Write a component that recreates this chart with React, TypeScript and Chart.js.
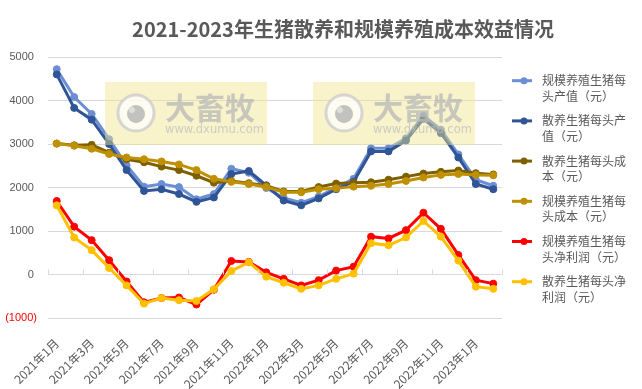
import React, { useEffect, useRef } from 'react';
import { Chart, registerables } from 'chart.js';

Chart.register(...registerables);

const TITLE = '2021-2023年生猪散养和规模养殖成本效益情况';

const months = [
  '2021年1月', '2021年2月', '2021年3月', '2021年4月', '2021年5月', '2021年6月',
  '2021年7月', '2021年8月', '2021年9月', '2021年10月', '2021年11月', '2021年12月',
  '2022年1月', '2022年2月', '2022年3月', '2022年4月', '2022年5月', '2022年6月',
  '2022年7月', '2022年8月', '2022年9月', '2022年10月', '2022年11月', '2022年12月',
  '2023年1月', '2023年2月',
];

// 规模养殖生猪每头产值（元）
const scaleOutput = [4720, 4080, 3690, 3110, 2510, 2020, 2080, 2010, 1730, 1850, 2430, 2340, 1990, 1760, 1650, 1790, 2000, 2200, 2900, 2900, 3130, 3650, 3330, 2760, 2180, 2040];
// 散养生猪每头产值（元）
const freeOutput = [4600, 3830, 3560, 3000, 2400, 1920, 1960, 1850, 1670, 1770, 2310, 2380, 2050, 1700, 1590, 1750, 1960, 2130, 2830, 2830, 3080, 3580, 3250, 2690, 2080, 1960];
// 散养生猪每头成本（元）
const freeCost = [3010, 2970, 2980, 2800, 2650, 2580, 2480, 2400, 2270, 2110, 2150, 2100, 2040, 1910, 1910, 2010, 2090, 2110, 2120, 2180, 2250, 2320, 2360, 2390, 2330, 2300];
// 规模养殖生猪每头成本（元）
const scaleCost = [3010, 2960, 2890, 2770, 2690, 2650, 2600, 2530, 2400, 2200, 2130, 2080, 2010, 1890, 1890, 1960, 1980, 2020, 2040, 2080, 2150, 2230, 2290, 2310, 2290, 2280];
// 规模养殖生猪每头净利润（元）
const scaleProfit = [1690, 1100, 790, 330, -160, -640, -540, -530, -690, -350, 310, 290, 50, -100, -250, -130, 90, 180, 870, 830, 1020, 1420, 1050, 450, -130, -210];
// 散养生猪每头净利润（元）
const freeProfit = [1590, 850, 560, 150, -250, -670, -540, -590, -610, -340, 80, 280, -50, -190, -330, -250, -100, 20, 720, 670, 850, 1230, 870, 320, -280, -330];

const seriesNames = [
  '规模养殖生猪每头产值（元）',
  '散养生猪每头产值（元）',
  '散养生猪每头成本（元）',
  '规模养殖生猪每头成本（元）',
  '规模养殖生猪每头净利润（元）',
  '散养生猪每头净利润（元）',
];
const legendLines = [
  ['规模养殖生猪每', '头产值（元）'],
  ['散养生猪每头产', '值（元）'],
  ['散养生猪每头成', '本（元）'],
  ['规模养殖生猪每', '头成本（元）'],
  ['规模养殖生猪每', '头净利润（元）'],
  ['散养生猪每头净', '利润（元）'],
];
const seriesColors = ['#6B8ED4', '#2F5597', '#7F6000', '#BF9000', '#FF0000', '#FFC000'];
const seriesData = [scaleOutput, freeOutput, freeCost, scaleCost, scaleProfit, freeProfit];

const yTicks = [-1000, 0, 1000, 2000, 3000, 4000, 5000];

const WATERMARK_MAIN = '大畜牧';
const WATERMARK_SUB = 'www.dxumu.com';

const FONT = "'Noto Sans CJK SC', 'Noto Sans', sans-serif";
const TEXT_COLOR = '#595959';

const titlePlugin = {
  id: 'customTitle',
  afterDraw(chart: any) {
    const ctx = chart.ctx;
    ctx.save();
    ctx.font = `bold 20px ${FONT}`;
    ctx.fillStyle = TEXT_COLOR;
    ctx.textAlign = 'center';
    ctx.textBaseline = 'middle';
    ctx.fillText(TITLE, 343, 29);
    ctx.restore();
  },
};

const legendPlugin = {
  id: 'customLegend',
  afterDraw(chart: any) {
    const ctx = chart.ctx;
    const x0 = chart.chartArea.right + 10;
    const y0 = 80.7;
    const step = 40.2;
    ctx.save();
    chart.data.datasets.forEach((ds: any, i: number) => {
      const y = y0 + i * step;
      ctx.strokeStyle = ds.borderColor;
      ctx.lineWidth = 3;
      ctx.beginPath();
      ctx.moveTo(x0, y);
      ctx.lineTo(x0 + 20, y);
      ctx.stroke();
      ctx.fillStyle = ds.borderColor;
      ctx.beginPath();
      ctx.arc(x0 + 12, y, 3.5, 0, Math.PI * 2);
      ctx.fill();
      ctx.font = `12px ${FONT}`;
      ctx.fillStyle = TEXT_COLOR;
      ctx.textAlign = 'left';
      ctx.textBaseline = 'middle';
      legendLines[i].forEach((line, k) => {
        ctx.fillText(line, x0 + 30, y + k * 15.5);
      });
    });
    ctx.restore();
  },
};

const axisTickPlugin = {
  id: 'axisTicks',
  afterDatasetsDraw(chart: any) {
    const ctx = chart.ctx;
    const xs = chart.scales.x;
    const ys = chart.scales.y;
    const y0 = ys.getPixelForValue(0);
    const n = chart.data.labels.length;
    const w = (xs.right - xs.left) / n;
    ctx.save();
    ctx.strokeStyle = '#D9D9D9';
    ctx.lineWidth = 1;
    ctx.beginPath();
    for (let k = 0; k <= n; k += 2) {
      const x = Math.round(xs.left + k * w) + 0.5;
      ctx.moveTo(x, y0 - 5);
      ctx.lineTo(x, y0);
    }
    ctx.stroke();
    ctx.restore();
  },
};

const watermarkPlugin = {
  id: 'watermark',
  afterDatasetsDraw(chart: any) {
    const ctx = chart.ctx;
    const boxes = [
      { L: 105, T: 82 },
      { L: 313, T: 82 },
    ];
    ctx.save();
    boxes.forEach(({ L, T }) => {
      const W = 162;
      const H = 63;
      ctx.fillStyle = 'rgba(240, 228, 140, 0.45)';
      ctx.fillRect(L, T, W, H);
      ctx.globalAlpha = 0.75;
      ctx.fillStyle = '#FFFFFF';
      ctx.beginPath();
      ctx.arc(L + 31, T + 31, 18, 0, Math.PI * 2);
      ctx.fill();
      ctx.strokeStyle = '#CACACA';
      ctx.lineWidth = 3;
      ctx.stroke();
      ctx.fillStyle = '#ADADAD';
      ctx.beginPath();
      ctx.arc(L + 31, T + 32, 9, 0, Math.PI * 2);
      ctx.fill();
      ctx.fillStyle = '#E8E8E8';
      ctx.beginPath();
      ctx.arc(L + 27, T + 28, 3, 0, Math.PI * 2);
      ctx.fill();
      ctx.fillStyle = '#B8B8B8';
      ctx.font = `bold 30px ${FONT}`;
      ctx.textAlign = 'left';
      ctx.textBaseline = 'middle';
      ctx.fillText(WATERMARK_MAIN, L + 60, T + 26);
      ctx.font = `11.5px 'DejaVu Sans', sans-serif`;
      ctx.fillStyle = '#BDBDBD';
      ctx.fillText(WATERMARK_SUB, L + 60, T + 48);
      ctx.globalAlpha = 1;
    });
    ctx.restore();
  },
};

export default function App() {
  const ref = useRef<HTMLCanvasElement>(null);
  useEffect(() => {
    document.body.style.margin = '0';
    const canvas = ref.current!;
    const chart = new Chart(canvas, {
      type: 'line',
      data: {
        labels: months,
        datasets: seriesData.map((d, i) => ({
          label: seriesNames[i],
          data: d,
          borderColor: seriesColors[i],
          backgroundColor: seriesColors[i],
          pointBackgroundColor: seriesColors[i],
          pointBorderColor: seriesColors[i],
          pointRadius: 3.5,
          pointBorderWidth: 1,
          borderWidth: 3,
          tension: 0,
          order: seriesData.length - i,
        })),
      },
      options: {
        animation: false,
        responsive: false,
        devicePixelRatio: 1,
        layout: { padding: { top: 57, right: 140, bottom: 0, left: 0 } },
        plugins: {
          legend: { display: false },
          title: { display: false },
          tooltip: { enabled: false },
        },
        scales: {
          x: {
            type: 'category',
            offset: true,
            grid: { display: false },
            border: { display: false },
            ticks: {
              autoSkip: false,
              maxRotation: 45,
              minRotation: 45,
              padding: 10,
              color: TEXT_COLOR,
              font: { size: 12, family: FONT },
              callback: (_v: any, i: number) => (i % 2 === 0 ? months[i] : null),
            },
            afterFit: (s: any) => {
              s.height = 71;
            },
          },
          y: {
            min: yTicks[0],
            max: yTicks[yTicks.length - 1],
            afterBuildTicks: (s: any) => {
              s.ticks = yTicks.map((v) => ({ value: v }));
            },
            grid: { color: '#D9D9D9', drawTicks: false, lineWidth: 1 },
            border: { display: false },
            ticks: {
              padding: 11,
              color: (c: any) => (c.tick && c.tick.value < 0 ? '#FF0000' : TEXT_COLOR),
              font: { size: 11, family: "'Liberation Sans', Arial, sans-serif" },
              callback: (v: any) => (v < 0 ? `(${Math.abs(v)})` : `${v} `),
            },
            afterFit: (s: any) => {
              s.width = 48;
            },
          },
        },
      },
      plugins: [axisTickPlugin, watermarkPlugin, titlePlugin, legendPlugin],
    });
    return () => chart.destroy();
  }, []);
  return (
    <div style={{ position: 'absolute', left: 0, top: 0, width: 642, height: 389, background: '#fff' }}>
      <canvas ref={ref} width={642} height={389} style={{ width: 642, height: 389, display: 'block' }} />
    </div>
  );
}
